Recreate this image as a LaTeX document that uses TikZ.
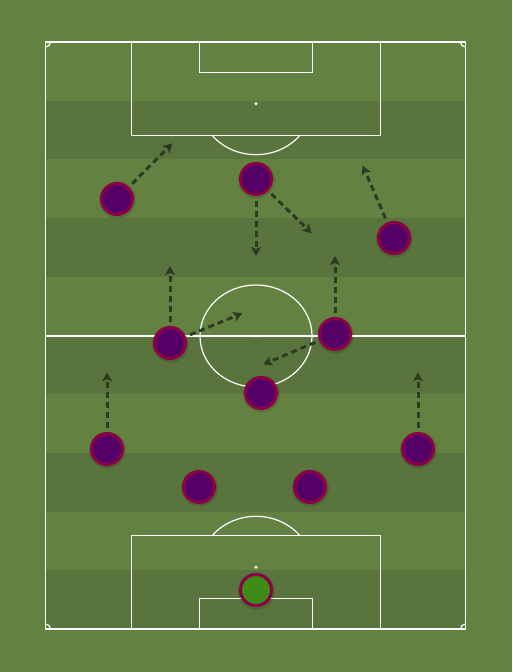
\documentclass[tikz,border=0pt]{standalone}
\usetikzlibrary{arrows.meta}
\definecolor{grasslight}{RGB}{99,130,66}
\definecolor{grassdark}{RGB}{90,116,62}
\definecolor{plfill}{RGB}{84,0,102}
\definecolor{plborder}{RGB}{140,0,70}
\definecolor{gkfill}{RGB}{60,140,22}
\definecolor{arrowc}{RGB}{45,58,36}
\tikzset{
  pitchline/.style={white,line width=1.2pt},
  player/.style={circle,draw=plborder,fill=plfill,line width=3pt,minimum size=31pt,inner sep=0pt},
  keeper/.style={player,fill=gkfill},
  shadowc/.style={circle,fill=black,opacity=0.12,minimum size=37pt,inner sep=0pt},
  run/.style={arrowc,line width=3pt,dash pattern=on 6pt off 4pt,shorten <=4.5pt,
    -{Stealth[length=9pt,width=10pt,inset=2pt]}},
}
\begin{document}
\begin{tikzpicture}[x=1pt,y=-1pt]
\useasboundingbox (0,0) rectangle (512,672);
\fill[grasslight] (0,0) rectangle (512,672);
% stripes
\foreach \i in {1,3,5,7,9}{
  \fill[grassdark] (45.5,{42+\i*58.7}) rectangle (465.5,{42+(\i+1)*58.7});
}
% pitch outline
\draw[pitchline] (45.5,42) rectangle (465.5,629);
\draw[pitchline] (45.5,336) -- (465.5,336);
% top penalty area
\draw[pitchline] (131.3,42) rectangle (380.3,135.3);
\draw[pitchline] (199.7,42) rectangle (312.7,72.7);
% bottom penalty area
\draw[pitchline] (131.3,629) rectangle (380.3,535.7);
\draw[pitchline] (199.7,629) rectangle (312.7,598.3);
% center circle
\draw[pitchline] (256,336) ellipse[x radius=56,y radius=51];
% arcs
\begin{scope}
  \clip (0,135.3) rectangle (512,220);
  \draw[pitchline] (256,103.7) ellipse[x radius=56,y radius=51];
\end{scope}
\begin{scope}
  \clip (0,450) rectangle (512,535.7);
  \draw[pitchline] (256,567.3) ellipse[x radius=56,y radius=51];
\end{scope}
% corner arcs
\begin{scope}
  \clip (45.5,42) rectangle (465.5,629);
  \draw[pitchline] (45.5,42) circle[radius=5];
  \draw[pitchline] (465.5,42) circle[radius=5];
  \draw[pitchline] (45.5,629) circle[radius=5];
  \draw[pitchline] (465.5,629) circle[radius=5];
\end{scope}
% spots
\fill[white] (256,103.7) circle[radius=1.6];
\fill[white] (256,336) circle[radius=1.6];
\fill[white] (256,567.3) circle[radius=1.6];
% shadows
\foreach \x/\y in {117/199,256/179,394/238,170/343,335/334,261/393,107/449,418/449,199/487,310/487,256/590}{
  \node[shadowc] at (\x+0.5,\y+1) {};
}
% players
\node[player] (p1) at (117,199) {};
\node[player] (p2) at (256,179) {};
\node[player] (p3) at (394,238) {};
\node[player] (p4) at (170,343) {};
\node[player] (p5) at (335,334) {};
\node[player] (p6) at (261,393) {};
\node[player] (p7) at (107,449) {};
\node[player] (p8) at (418,449) {};
\node[player] (p9) at (199,487) {};
\node[player] (p10) at (310,487) {};
\node[keeper] (gk) at (256,590) {};
% run targets
\coordinate (t1) at (172.3,143.3);
\coordinate (t2a) at (256,256);
\coordinate (t2b) at (311.7,233.3);
\coordinate (t3) at (362.7,165.7);
\coordinate (t4a) at (170,266);
\coordinate (t4b) at (242.3,313.3);
\coordinate (t5a) at (335,256);
\coordinate (t5b) at (263.3,364.3);
\coordinate (t7) at (107,372.3);
\coordinate (t8) at (418,372.3);
% runs
\draw[run] (p1) -- (t1);
\draw[run] (p2) -- (t2a);
\draw[run] (p2) -- (t2b);
\draw[run] (p3) -- (t3);
\draw[run] (p4) -- (t4a);
\draw[run] (p4) -- (t4b);
\draw[run] (p5) -- (t5a);
\draw[run] (p5) -- (t5b);
\draw[run] (p7) -- (t7);
\draw[run] (p8) -- (t8);
\end{tikzpicture}
\end{document}
